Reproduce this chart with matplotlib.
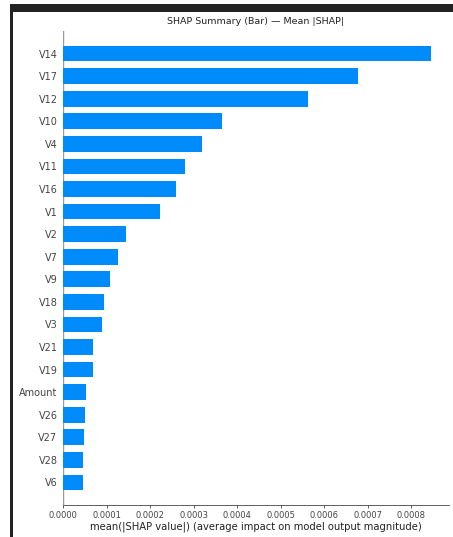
import matplotlib
matplotlib.use("Agg")
import matplotlib.pyplot as plt
from matplotlib.patches import Rectangle

# feature names, top to bottom
features = ["V14", "V17", "V12", "V10", "V4", "V11", "V16", "V1", "V2", "V7",
            "V9", "V18", "V3", "V21", "V19", "Amount", "V26", "V27", "V28", "V6"]
# mean |SHAP|
mean_shap = [0.000844, 0.000678, 0.000562, 0.000364, 0.000318, 0.000281,
             0.000260, 0.000222, 0.000145, 0.000127, 0.000107, 0.000095,
             0.0000897, 0.000069, 0.000069, 0.000053, 0.000051, 0.000048,
             0.000047, 0.000046]
xticks = [0.0, 0.0001, 0.0002, 0.0003, 0.0004, 0.0005, 0.0006, 0.0007, 0.0008]

blue = "#008bfb"
axis_color = "#444444"

fig = plt.figure(figsize=(4.53, 5.37), dpi=100)

# screenshot frame (dark band on top, dark line at left)
fig.add_artist(Rectangle((10 / 453, 1 - 12 / 537), 1, 8 / 537,
                         transform=fig.transFigure, color="#222222", lw=0))
fig.add_artist(Rectangle((10 / 453, 0), 3 / 453, 1 - 4 / 537,
                         transform=fig.transFigure, color="#222222", lw=0))

ax = fig.add_axes([63 / 453, 1 - 505 / 537, (449 - 63) / 453, (505 - 31) / 537])

n = len(features)
y_pos = list(range(n - 1, -1, -1))
ax.barh(y_pos, mean_shap, 0.7, align="center", color=blue, zorder=2)
ax.axvline(0, color="#999999", lw=1, zorder=1)

ax.set_ylim(-1, n)
ax.set_yticks(y_pos)
ax.set_yticklabels(features, fontsize=7, color=axis_color)
ax.set_xticks(xticks)
ax.set_xticklabels([f"{v:.4f}" for v in xticks], fontsize=6, color=axis_color)

for s in ["top", "right", "left"]:
    ax.spines[s].set_visible(False)
ax.spines["bottom"].set_color(axis_color)
ax.spines["bottom"].set_linewidth(0.6)
ax.tick_params("y", length=0, pad=4)
ax.tick_params("x", length=2.5, width=0.6, pad=2, color=axis_color)

ax.set_xlabel("mean(|SHAP value|) (average impact on model output magnitude)",
              fontsize=7.2, color="#222222", labelpad=1)
ax.set_title("SHAP Summary (Bar) — Mean |SHAP|", fontsize=6.8,
             color="#222222", pad=5)

fig.savefig("out.png", dpi=100)
